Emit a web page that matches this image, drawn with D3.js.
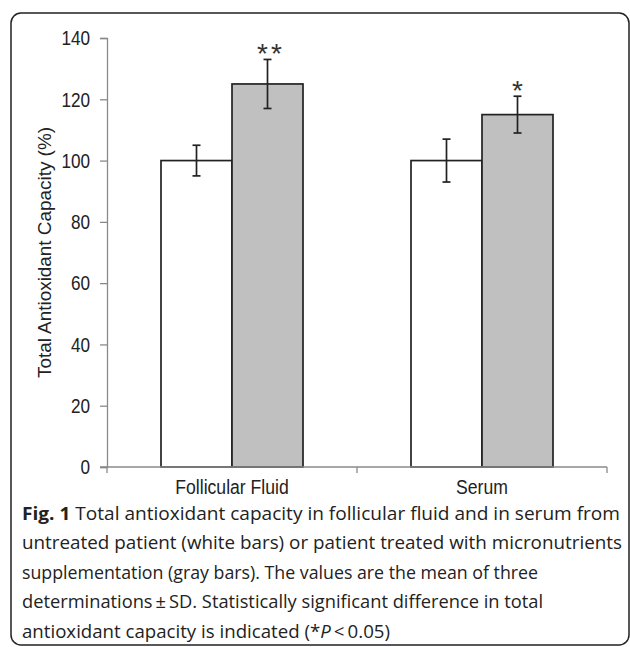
<!DOCTYPE html>
<html><head><meta charset="utf-8">
<script src="https://cdn.jsdelivr.net/npm/d3@7"></script>
<style>
html,body{margin:0;padding:0;background:#fff;}
svg{display:block;}
</style></head>
<body>
<script>
const categories = ["Follicular Fluid", "Serum"];
const untreatedValues = [100, 100];
const untreatedSD = [5, 7];
const treatedValues = [125, 115];
const treatedSD = [8, 6];
const significance = ["**", "*"];
const yTicks = [0, 20, 40, 60, 80, 100, 120, 140];
const yLabel = "Total Antioxidant Capacity (%)";
const captionLines = [
  [{b:"Fig. 1"}, {t:" Total antioxidant capacity in follicular fluid and in serum from"}],
  [{t:"untreated patient (white bars) or patient treated with micronutrients"}],
  [{t:"supplementation (gray bars). The values are the mean of three"}],
  [{t:"determinations\u2009\u00b1\u2009SD. Statistically significant difference in total"}],
  [{t:"antioxidant capacity is indicated (*"}, {i:"P"}, {t:"\u2009<\u20090.05)"}]
];
const captionWidths = [598, 600, 516, 521, 368];

const W = 630, H = 647;
const svg = d3.select("body").append("svg").attr("width", W).attr("height", H);

svg.append("rect").attr("x", 11).attr("y", 13).attr("width", 618).attr("height", 632)
  .attr("rx", 10).attr("fill", "#fff").attr("stroke", "#222").attr("stroke-width", 1.5);

const y = d3.scaleLinear().domain([0, 140]).range([467, 38]);
const x = d3.scaleBand().domain(categories).range([107, 607]).padding(0);
const barW = 71;
const font = "'Liberation Sans', Arial, sans-serif";
const squeeze = 0.88;

// y axis
const yAxis = svg.append("g").attr("transform", "translate(107,0)")
  .call(d3.axisLeft(y).tickValues(yTicks).tickSize(7).tickPadding(10));
yAxis.select(".domain").attr("stroke", "#8a8a8a").attr("stroke-width", 1.3);
yAxis.selectAll(".tick line").attr("stroke", "#8a8a8a").attr("stroke-width", 1.3);
yAxis.selectAll(".tick text").attr("font-family", font).attr("font-size", 19.5).attr("fill", "#222")
  .attr("dy", "0.35em")
  .attr("textLength", d => String(d).length * 19.5 * 0.556 * squeeze)
  .attr("lengthAdjust", "spacingAndGlyphs");

// bars
const g = svg.append("g");
categories.forEach((c, i) => {
  const cx = x(c) + x.bandwidth() / 2;
  g.append("rect").attr("x", cx - barW).attr("y", y(untreatedValues[i]))
    .attr("width", barW).attr("height", y(0) - y(untreatedValues[i]))
    .attr("fill", "#fff").attr("stroke", "#222").attr("stroke-width", 1.7);
  g.append("rect").attr("x", cx).attr("y", y(treatedValues[i]))
    .attr("width", barW).attr("height", y(0) - y(treatedValues[i]))
    .attr("fill", "#c0c0c0").attr("stroke", "#222").attr("stroke-width", 1.7);
  const errs = [[cx - barW / 2, untreatedValues[i], untreatedSD[i]], [cx + barW / 2, treatedValues[i], treatedSD[i]]];
  errs.forEach(([ex, v, sd]) => {
    const ge = g.append("g").attr("stroke", "#222").attr("stroke-width", 1.7);
    ge.append("line").attr("x1", ex).attr("x2", ex).attr("y1", y(v + sd)).attr("y2", y(v - sd));
    ge.append("line").attr("x1", ex - 4).attr("x2", ex + 4).attr("y1", y(v + sd)).attr("y2", y(v + sd));
    ge.append("line").attr("x1", ex - 4).attr("x2", ex + 4).attr("y1", y(v - sd)).attr("y2", y(v - sd));
  });
  const sig = significance[i];
  g.append("text").attr("x", cx + barW / 2 + (sig.length > 1 ? 2 : 0)).attr("y", y(treatedValues[i] + treatedSD[i]) + 3.5)
    .attr("text-anchor", "middle").attr("font-family", font).attr("font-size", 28).attr("fill", "#333")
    .attr("textLength", sig.length * 12.5).attr("lengthAdjust", "spacing")
    .text(sig);
});

// x axis
const xAxis = svg.append("g").attr("transform", "translate(0,467)")
  .call(d3.axisBottom(x).tickSize(0).tickPadding(13));
xAxis.select(".domain").remove();
xAxis.append("line").attr("x1", 100).attr("x2", 607).attr("y1", 0).attr("y2", 0)
  .attr("stroke", "#8a8a8a").attr("stroke-width", 1.3);
[107, 357, 607].forEach(tx => {
  xAxis.append("line").attr("x1", tx).attr("x2", tx).attr("y1", 0).attr("y2", 6)
    .attr("stroke", "#8a8a8a").attr("stroke-width", 1.3);
});
xAxis.selectAll(".tick text").attr("font-family", font).attr("font-size", 20).attr("fill", "#222")
  .attr("dy", "0.71em")
  .each(function() {
    const t = d3.select(this);
    const w = this.getComputedTextLength();
    t.attr("textLength", w * squeeze).attr("lengthAdjust", "spacingAndGlyphs");
  });

// y label
const yl = svg.append("text").attr("transform", "translate(51,252.5) rotate(-90)")
  .attr("text-anchor", "middle").attr("font-family", font).attr("font-size", 19).attr("fill", "#222")
  .text(yLabel);
yl.attr("textLength", 251).attr("lengthAdjust", "spacingAndGlyphs");

// caption
const capFont = "'Open Sans', 'Noto Sans', sans-serif";
const cap = svg.append("g");
captionLines.forEach((parts, li) => {
  const t = cap.append("text").attr("x", 22).attr("y", 519.5 + li * 29.6)
    .attr("font-family", capFont).attr("font-size", 18.5).attr("fill", "#222")
    .attr("textLength", captionWidths[li]).attr("lengthAdjust", "spacingAndGlyphs");
  parts.forEach(p => {
    if (p.b) t.append("tspan").attr("font-weight", "bold").text(p.b);
    if (p.t) t.append("tspan").text(p.t);
    if (p.i) t.append("tspan").attr("font-style", "italic").text(p.i);
  });
});
</script>
</body></html>
